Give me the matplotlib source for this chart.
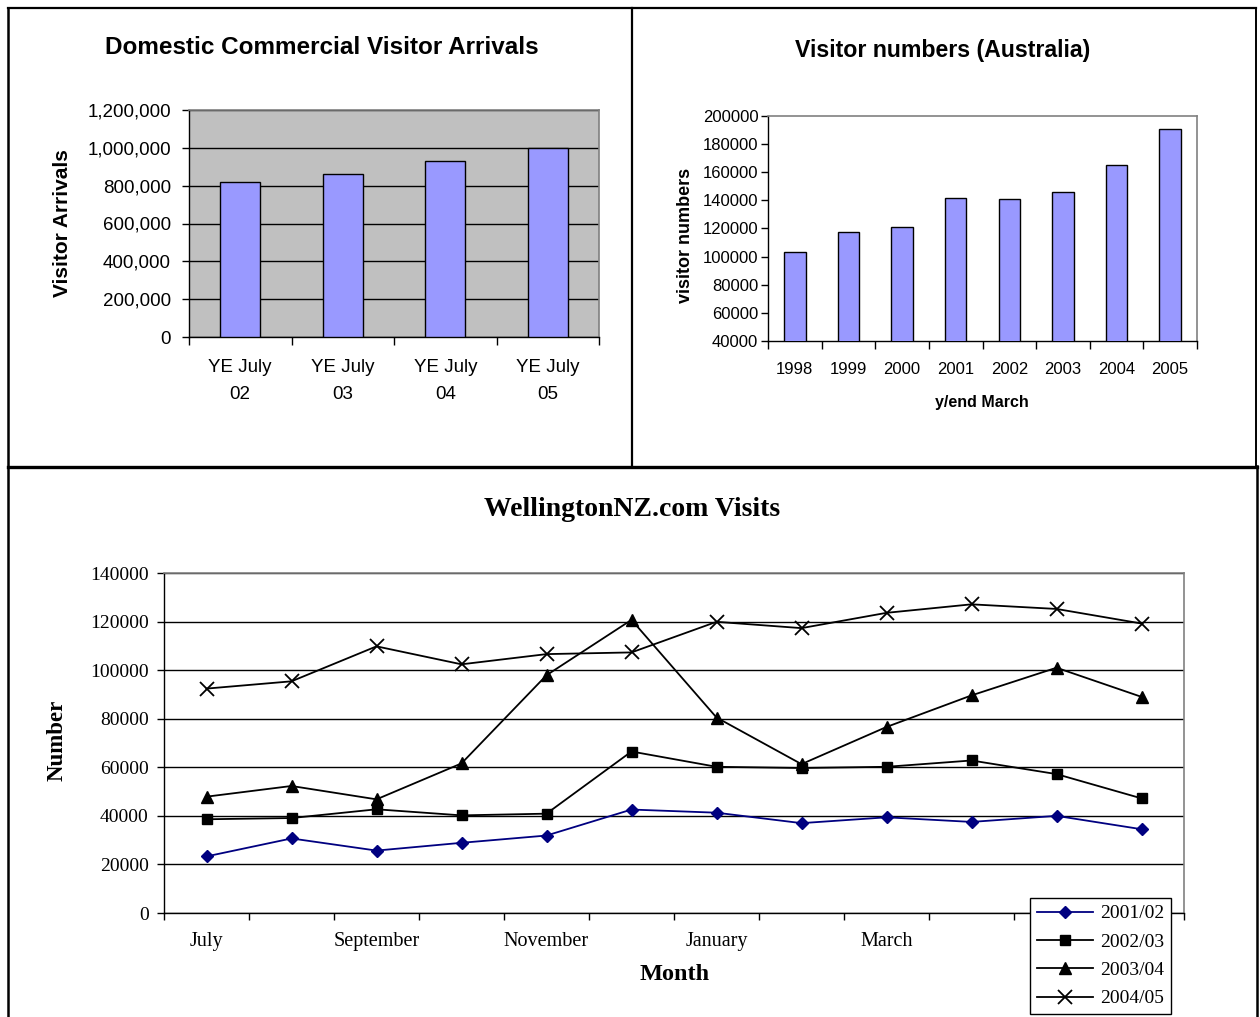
import matplotlib
matplotlib.use("Agg")
import matplotlib.pyplot as plt
from matplotlib.lines import Line2D
from matplotlib.ticker import FuncFormatter, FixedLocator

# ---------------- data ----------------
dom_labels = ["YE July\n02", "YE July\n03", "YE July\n04", "YE July\n05"]
dom_values = [820000, 864000, 930000, 1000000]

aus_years = ["1998", "1999", "2000", "2001", "2002", "2003", "2004", "2005"]
aus_values = [103100, 117600, 121200, 141900, 140700, 145700, 165200, 190500]

months = ["July", "August", "September", "October", "November", "December",
          "January", "February", "March", "April", "May", "June"]
month_labels = ["July", "", "September", "", "November", "",
                "January", "", "March", "", "May", ""]
v2001_02 = [23300, 30700, 25700, 28900, 31900, 42600, 41300, 37000, 39400, 37500, 40000, 34500]
v2002_03 = [38600, 39100, 42700, 40200, 40900, 66500, 60200, 59700, 60200, 62800, 57200, 47200]
v2003_04 = [47900, 52300, 46800, 61600, 97900, 120700, 80500, 61300, 76600, 89600, 101000, 89000]
v2004_05 = [92400, 95400, 109800, 102400, 106600, 107300, 119900, 117300, 123600, 127100, 125200, 119200]
series_names = ["2001/02", "2002/03", "2003/04", "2004/05"]

W, H = 1260, 1017
fig = plt.figure(figsize=(W / 100, H / 100), dpi=100)
fig.patch.set_facecolor("white")

def fx(px):
    return px / W

def fy(py):
    return 1 - py / H

def axes_px(l, t, r, b):
    return fig.add_axes([fx(l), fy(b), fx(r) - fx(l), (b - t) / H])

SANS = "Liberation Sans"
SERIF = "Liberation Serif"
GRAY = "#808080"

# ---------------- panel borders ----------------
def hline(y, x0, x1, lw):
    fig.add_artist(Line2D([fx(x0), fx(x1)], [fy(y), fy(y)], color="black", lw=lw,
                          transform=fig.transFigure, solid_capstyle="projecting"))

def vline(x, y0, y1, lw):
    fig.add_artist(Line2D([fx(x), fx(x)], [fy(y0), fy(y1)], color="black", lw=lw,
                          transform=fig.transFigure, solid_capstyle="projecting"))

hline(7.5, 8, 1256, 1.6)
hline(466.5, 8, 1257, 2.4)
vline(8, 7.5, 1017, 1.8)
vline(632, 7.5, 466, 1.6)
vline(1255.5, 7.5, 466, 1.4)
vline(1257, 466, 1017, 1.8)

# ---------------- top-left chart ----------------
ax1 = axes_px(189, 110, 599, 337)
x1 = list(range(len(dom_values)))
ax1.set_facecolor("#C0C0C0")
ax1.bar(x1, dom_values, width=0.39, color="#9999FF", edgecolor="black", linewidth=1.0, zorder=3)
ax1.set_xlim(-0.5, len(dom_values) - 0.5)
ax1.set_ylim(0, 1200000)
ax1.set_yticks(range(0, 1200001, 200000))
ax1.yaxis.set_major_formatter(FuncFormatter(lambda v, p: f"{int(v):,}"))
ax1.grid(axis="y", color="black", lw=1.0, zorder=1)
ax1.set_axisbelow(True)
ax1.set_xticks(x1)
ax1.set_xticklabels(dom_labels, fontfamily=SANS, fontsize=13.5, linespacing=1.75)
ax1.xaxis.set_minor_locator(FixedLocator([i - 0.5 for i in range(len(dom_values) + 1)]))
ax1.tick_params(axis="x", which="major", length=0, pad=16)
ax1.tick_params(axis="x", which="minor", length=6, width=1, direction="out")
ax1.tick_params(axis="y", length=5, width=1, direction="out", pad=8)
for lab in ax1.get_yticklabels():
    lab.set_fontfamily(SANS)
    lab.set_fontsize(13.5)
for s in ("top", "right"):
    ax1.spines[s].set_color(GRAY)
    ax1.spines[s].set_linewidth(1.2)
for s in ("left", "bottom"):
    ax1.spines[s].set_color("black")
    ax1.spines[s].set_linewidth(1.0)
fig.text(fx(322), fy(47), "Domestic Commercial Visitor Arrivals", ha="center", va="center",
         fontfamily=SANS, fontweight="bold", fontsize=17.5)
fig.text(fx(63), fy(223), "Visitor Arrivals", ha="center", va="center", rotation=90,
         fontfamily=SANS, fontweight="bold", fontsize=15)

# ---------------- top-right chart ----------------
ax2 = axes_px(768, 116, 1197, 341)
x2 = list(range(len(aus_values)))
ax2.set_facecolor("white")
ax2.bar(x2, aus_values, width=0.4, color="#9999FF", edgecolor="black", linewidth=1.0, zorder=3)
ax2.set_xlim(-0.5, len(aus_values) - 0.5)
ax2.set_ylim(40000, 200000)
ax2.set_yticks(range(40000, 200001, 20000))
ax2.set_xticks(x2)
ax2.set_xticklabels(aus_years, fontfamily=SANS, fontsize=12)
ax2.xaxis.set_minor_locator(FixedLocator([i - 0.5 for i in range(len(aus_values) + 1)]))
ax2.tick_params(axis="x", which="major", length=0, pad=15)
ax2.tick_params(axis="x", which="minor", length=6, width=1, direction="out")
ax2.tick_params(axis="y", length=5, width=1, direction="out", pad=2)
for lab in ax2.get_yticklabels():
    lab.set_fontfamily(SANS)
    lab.set_fontsize(12)
for s in ("top", "right"):
    ax2.spines[s].set_color(GRAY)
    ax2.spines[s].set_linewidth(1.2)
for s in ("left", "bottom"):
    ax2.spines[s].set_color("black")
    ax2.spines[s].set_linewidth(1.0)
fig.text(fx(943), fy(50), "Visitor numbers (Australia)", ha="center", va="center",
         fontfamily=SANS, fontweight="bold", fontsize=16.7)
fig.text(fx(982), fy(403), "y/end March", ha="center", va="center",
         fontfamily=SANS, fontweight="bold", fontsize=11.5)
fig.text(fx(686), fy(235), "visitor numbers", ha="center", va="center",
         rotation=90, fontfamily=SANS, fontweight="bold", fontsize=13)

# ---------------- bottom chart ----------------
ax3 = axes_px(164, 573, 1184, 913)
x3 = list(range(len(months)))
ax3.set_facecolor("white")
ax3.plot(x3, v2001_02, color="#000080", lw=1.3, marker="D", ms=6.5, mfc="#000080", mec="#000080",
         label=series_names[0], zorder=4)
ax3.plot(x3, v2002_03, color="black", lw=1.3, marker="s", ms=7.5, label=series_names[1], zorder=4)
ax3.plot(x3, v2003_04, color="black", lw=1.3, marker="^", ms=9, label=series_names[2], zorder=4)
ax3.plot(x3, v2004_05, color="black", lw=1.3, marker="x", ms=10, mew=1.3, label=series_names[3], zorder=4)
ax3.set_xlim(-0.5, len(months) - 0.5)
ax3.set_ylim(0, 140000)
ax3.set_yticks(range(0, 140001, 20000))
ax3.grid(axis="y", color="black", lw=1.0, zorder=1)
ax3.set_axisbelow(True)
ax3.set_xticks(x3)
ax3.set_xticklabels(month_labels, fontfamily=SERIF, fontsize=14.5)
ax3.xaxis.set_minor_locator(FixedLocator([i - 0.5 for i in range(len(months) + 1)]))
ax3.tick_params(axis="x", which="major", length=0, pad=14)
ax3.tick_params(axis="x", which="minor", length=5, width=1, direction="out")
ax3.tick_params(axis="y", length=5, width=1, direction="out", pad=6)
for lab in ax3.get_yticklabels():
    lab.set_fontfamily(SERIF)
    lab.set_fontsize(14)
for s in ("top", "right"):
    ax3.spines[s].set_color(GRAY)
    ax3.spines[s].set_linewidth(1.2)
for s in ("left", "bottom"):
    ax3.spines[s].set_color("black")
    ax3.spines[s].set_linewidth(1.0)
fig.text(fx(632), fy(510), "WellingtonNZ.com Visits", ha="center", va="center",
         fontfamily=SERIF, fontweight="bold", fontsize=20)
fig.text(fx(675), fy(974), "Month", ha="center", va="center",
         fontfamily=SERIF, fontweight="bold", fontsize=17.5)
fig.text(fx(57), fy(740), "Number", ha="center", va="center", rotation=90,
         fontfamily=SERIF, fontweight="bold", fontsize=16.5)

leg = ax3.legend(loc="upper left", bbox_to_anchor=(fx(1030), fy(898)),
                 bbox_transform=fig.transFigure, frameon=True, fancybox=False,
                 prop={"family": SERIF, "size": 14}, handlelength=2.9,
                 borderpad=0.35, labelspacing=0.55, handletextpad=0.35, borderaxespad=0)
leg.get_frame().set_edgecolor("black")
leg.get_frame().set_linewidth(1.0)
leg.get_frame().set_alpha(1.0)
leg.set_zorder(10)

fig.savefig("out.png", dpi=100, facecolor="white")
